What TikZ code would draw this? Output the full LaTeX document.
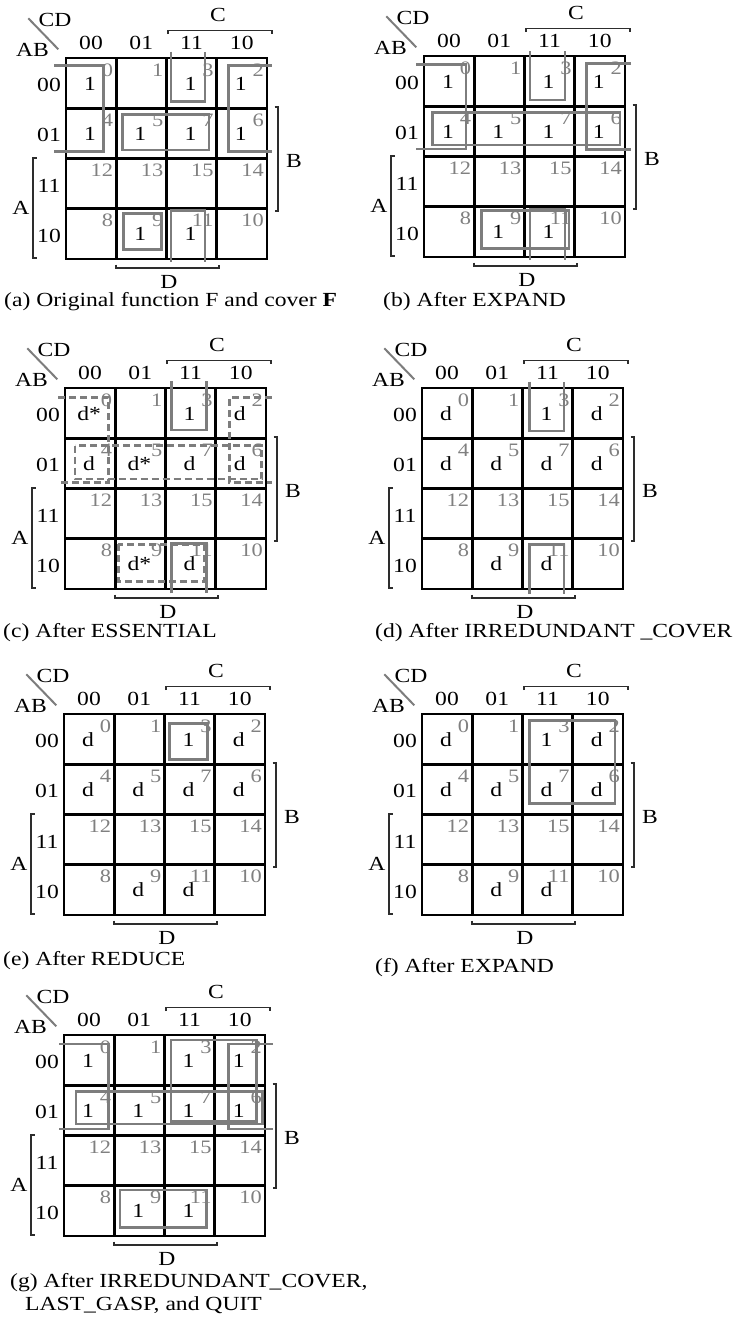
\documentclass[tikz,border=0pt]{standalone}
\usepackage{fontspec}
\setmainfont{Liberation Serif}[FakeStretch=1.18]
\definecolor{covgray}{RGB}{125,125,125}
\definecolor{numgray}{RGB}{128,128,128}
\definecolor{brkgray}{RGB}{45,45,45}
\tikzset{
 gridln/.style={line width=2.6pt, black},
 cov/.style={line width=2.6pt, covgray},
 covd/.style={cov, dash pattern=on 7pt off 4pt},
 brk/.style={line width=1.2pt, brkgray},
 diagln/.style={line width=2pt, covgray},
 lbl/.style={inner sep=0pt, font=\fontsize{20}{24}\selectfont},
 num/.style={inner sep=0pt, anchor=base east, text=numgray, font=\fontsize{19}{22}\selectfont},
 val/.style={inner sep=0pt, anchor=base, font=\fontsize{20}{24}\selectfont},
 captxt/.style={inner sep=0pt, anchor=base west, font=\fontsize{20}{24}\selectfont},
}
\newcommand{\kmapframe}[1]{%
  \draw[gridln] (0,0) rectangle (201,201);
  \foreach \i in {1,2,3} {
    \draw[gridln] (\i*50.25,0) -- (\i*50.25,201);
    \draw[gridln] (0,\i*50.25) -- (201,\i*50.25);
  }
  \draw[diagln] (-37.7,-39.7) -- (-7.7,-8.7);
  \node[lbl] (#1-CD) at (-11,-38) {CD};
  \node[lbl] (#1-AB) at (-33.5,-8) {AB};
  \foreach \t/\k in {00/0,01/1,11/2,10/3} {
    \node[lbl] (#1-col\k) at (25+\k*50.25,-15) {\t};
    \node[lbl] (#1-row\k) at (-17,27+\k*50.25) {\t};
  }
  \draw[brk] (102,-24) -- (102,-27.5) -- (206,-27.5) -- (206,-24);
  \node[lbl] (#1-C) at (152,-43) {C};
  \draw[brk] (50,206.5) -- (50,210) -- (153,210) -- (153,206.5);
  \node[lbl] (#1-D) at (103,224) {D};
  \draw[brk] (-29.5,100) -- (-33,100) -- (-33,200) -- (-29.5,200);
  \node[lbl] (#1-A) at (-45,149.5) {A};
  \draw[brk] (208.5,49) -- (212,49) -- (212,153) -- (208.5,153);
  \node[lbl] (#1-B) at (228,103) {B};
  \foreach \n/\c/\r in {0/1/0,1/2/0,3/3/0,2/4/0,4/1/1,5/2/1,7/3/1,6/4/1,
      12/1/2,13/2/2,15/3/2,14/4/2,8/1/3,9/2/3,11/3/3,10/4/3} {
    \node[num] (#1-n\n) at (\c*50.25-3,\r*50.25+18) {\n};
  }
}
\newcommand{\kcells}[2]{%
  \foreach \r/\c/\t [count=\q] in {#2} {
    \node[val] (#1-v\q) at ({(\c+0.5)*50.25-1},{\r*50.25+32}) {\t};
  }
}
\begin{document}
\begin{tikzpicture}[x=1pt,y=-1pt]
\useasboundingbox (0,0) rectangle (741,1326);

% (a)
\begin{scope}[shift={(66,58)}]
\kmapframe{a}
\kcells{a}{0/0/1,0/2/1,0/3/1,1/0/1,1/1/1,1/2/1,1/3/1,3/1/1,3/2/1}
\draw[cov] (-11.7,7.7) -- (37.3,7.7) -- (37.3,93.7) -- (-11.7,93.7);
\draw[cov] (205.7,7.7) -- (162.3,7.7) -- (162.3,93.7) -- (205.7,93.7);
\draw[cov] (105,-6.3) -- (105,43.7) -- (139,43.7) -- (139,-6.3);
\draw[cov] (105,203.7) -- (105,152.7) -- (139,152.7) -- (139,203.7);
\draw[cov] (56.3,56.3) rectangle (143,92);
\draw[cov] (57.3,155.3) rectangle (95.7,191.3);
\end{scope}
\node[captxt] (capa) at (4,306) {(a) Original function F and cover \textbf{F}};

% (b)
\begin{scope}[shift={(424,56)}]
\kmapframe{b}
\kcells{b}{0/0/1,0/2/1,0/3/1,1/0/1,1/1/1,1/2/1,1/3/1,3/1/1,3/2/1}
\draw[cov] (-8,8.3) -- (42,8.3) -- (42,93) -- (-8,93);
\draw[cov] (207,7.3) -- (162.7,7.3) -- (162.7,93.7) -- (207,93.7);
\draw[cov] (8.3,56.3) rectangle (196,89);
\draw[cov] (106,-5) -- (106,44) -- (141,44) -- (141,-5);
\draw[cov] (106,204) -- (106,153.3) -- (141,153.3) -- (141,204);
\draw[cov] (57.7,154.7) rectangle (145,192.3);
\end{scope}
\node[captxt] (capb) at (383,306) {(b) After EXPAND};

% (c)
\begin{scope}[shift={(65,388)}]
\kmapframe{c}
\kcells{c}{0/0/d*,0/2/1,0/3/d,1/0/d,1/1/d*,1/2/d,1/3/d,3/1/d*,3/2/d}
\draw[covd] (-6.7,9.3) -- (43.3,9.3) -- (43.3,94.7) -- (-6.7,94.7);
\draw[covd] (206.7,9.3) -- (164.3,9.3) -- (164.3,94.7) -- (206.7,94.7);
\draw[covd] (10,57.7) rectangle (196.7,91);
\draw[cov] (106.7,-7) -- (106.7,42) -- (141.7,42) -- (141.7,-7);
\draw[cov] (106.7,205.3) -- (106.7,155.3) -- (141.7,155.3) -- (141.7,205.3);
\draw[covd] (53.3,156.3) rectangle (139,193.7);
\end{scope}
\node[captxt] (capc) at (3,637) {(c) After ESSENTIAL};

% (d)
\begin{scope}[shift={(422,388)}]
\kmapframe{d}
\kcells{d}{0/0/d,0/2/1,0/3/d,1/0/d,1/1/d,1/2/d,1/3/d,3/1/d,3/2/d}
\draw[cov] (107.3,-6.3) -- (107.3,43) -- (142,43) -- (142,-6.3);
\draw[cov] (107.3,206) -- (107.3,156.3) -- (142,156.3) -- (142,206);
\end{scope}
\node[captxt] (capd) at (375,637) {(d) After IRREDUNDANT \_COVER};

% (e)
\begin{scope}[shift={(64,714)}]
\kmapframe{e}
\kcells{e}{0/0/d,0/2/1,0/3/d,1/0/d,1/1/d,1/2/d,1/3/d,3/1/d,3/2/d}
\draw[cov] (105.3,9.3) rectangle (143.3,45.3);
\end{scope}
\node[captxt] (cape) at (3,965) {(e) After REDUCE};

% (f)
\begin{scope}[shift={(422,714)}]
\kmapframe{f}
\kcells{f}{0/0/d,0/2/1,0/3/d,1/0/d,1/1/d,1/2/d,1/3/d,3/1/d,3/2/d}
\draw[cov] (107.3,6.7) rectangle (193,89.3);
\end{scope}
\node[captxt] (capf) at (375,972) {(f) After EXPAND};

% (g)
\begin{scope}[shift={(64,1035)}]
\kmapframe{g}
\kcells{g}{0/0/1,0/2/1,0/3/1,1/0/1,1/1/1,1/2/1,1/3/1,3/1/1,3/2/1}
\draw[cov] (-5,9) -- (44.3,9) -- (44.3,94) -- (-5,94);
\draw[cov] (208.7,9) -- (164.3,9) -- (164.3,94) -- (208.7,94);
\draw[cov] (12,56.7) rectangle (198.7,89);
\draw[cov] (107,5) rectangle (192.7,86.7);
\draw[cov] (56,155) rectangle (142.7,192.7);
\end{scope}
\node[captxt] (capg1) at (10,1287) {(g) After IRREDUNDANT\_COVER,};
\node[captxt] (capg2) at (25,1310) {LAST\_GASP, and QUIT};
\end{tikzpicture}
\end{document}
